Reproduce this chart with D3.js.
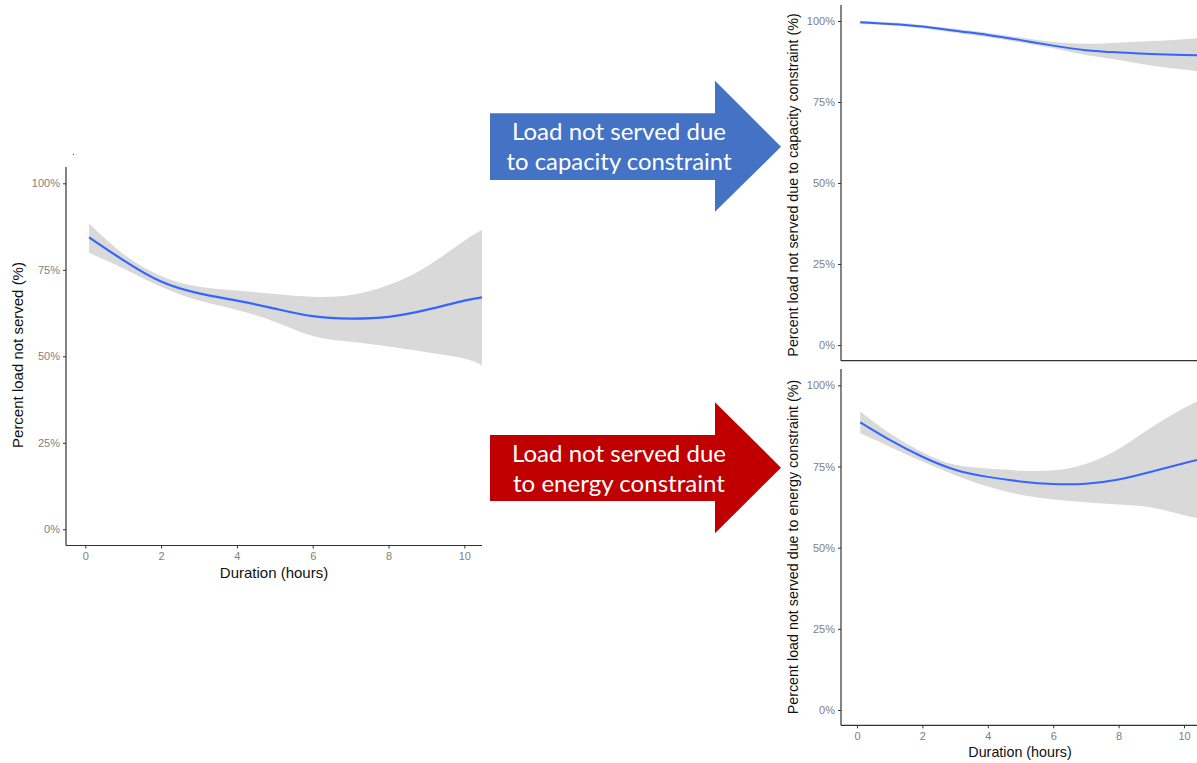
<!DOCTYPE html>
<html>
<head>
<meta charset="utf-8">
<script src="https://cdn.jsdelivr.net/npm/d3@7"></script>
<style>
html,body{margin:0;padding:0;background:#fff;}
svg{display:block;}
</style>
</head>
<body>
<svg id="chart" width="1197" height="763"></svg>
<script>
// ---- data ----
const hours = [0.1, 1, 2, 3, 4, 5, 6, 7, 8, 9, 10, 10.5];

const totalFit = [84.4, 77.8, 71.6, 68.2, 66.1, 63.8, 61.6, 60.9, 61.4, 63.4, 66.1, 67.1];
const totalLo  = [79.9, 75.4, 70.1, 66.1, 63.4, 60.0, 55.9, 54.2, 52.8, 51.2, 49.4, 47.2];
const totalHi  = [88.4, 79.6, 73.2, 70.1, 69.0, 68.0, 67.2, 67.7, 70.6, 75.9, 83.4, 86.7];

const capFit = [99.6, 99.1, 98.3, 97.0, 95.7, 94.1, 92.4, 91.0, 90.3, 89.8, 89.5, 89.4];
const capLo  = [99.1, 98.7, 97.8, 96.4, 95.0, 93.4, 91.6, 89.5, 88.0, 86.3, 85.0, 84.3];
const capHi  = [100.1, 99.6, 98.8, 97.6, 96.4, 94.9, 93.5, 93.0, 93.3, 93.8, 94.4, 94.8];

const energyFit = [88.6, 83.2, 78.0, 74.0, 71.8, 70.4, 69.6, 69.7, 71.0, 73.4, 76.0, 77.2];
const energyLo  = [85.2, 81.1, 76.5, 72.3, 68.8, 66.3, 64.8, 64.0, 63.3, 62.4, 60.0, 59.0];
const energyHi  = [91.9, 85.2, 79.4, 75.5, 74.4, 73.7, 73.8, 75.8, 80.4, 87.0, 93.0, 95.5];

const xTicks = [0, 2, 4, 6, 8, 10];
const yTicks = [0, 25, 50, 75, 100];
const xTitle = "Duration (hours)";
const yTitleTotal = "Percent load not served (%)";
const yTitleCap = "Percent load not served due to capacity constraint (%)";
const yTitleEnergy = "Percent load not served due to energy constraint (%)";
const arrowTextCap = ["Load not served due", "to capacity constraint"];
const arrowTextEnergy = ["Load not served due", "to energy constraint"];

// ---- drawing ----
const svg = d3.select("#chart");
const defs = svg.append("defs");
const FONT = "'Liberation Sans', Arial, Helvetica, sans-serif";

function panel(cfg, id) {
  const x = d3.scaleLinear().domain([0, 10]).range([cfg.x0, cfg.x10]);
  const y = d3.scaleLinear().domain([0, 100]).range([cfg.y0, cfg.y100]);
  const g = svg.append("g");

  defs.append("clipPath").attr("id", id)
    .append("rect")
    .attr("x", cfg.left).attr("y", cfg.top)
    .attr("width", cfg.right - cfg.left).attr("height", cfg.bottom - cfg.top);

  const pts = hours.map((h, i) => ({h, fit: cfg.fit[i], lo: cfg.lo[i], hi: cfg.hi[i]}));
  const area = d3.area().x(d => x(d.h)).y0(d => y(d.lo)).y1(d => y(d.hi)).curve(d3.curveNatural);
  const line = d3.line().x(d => x(d.h)).y(d => y(d.fit)).curve(d3.curveNatural);

  const pg = g.append("g").attr("clip-path", `url(#${id})`);
  pg.append("path").datum(pts).attr("d", area).attr("fill", "#d9d9d9");
  pg.append("path").datum(pts).attr("d", line).attr("fill", "none")
    .attr("stroke", "#3366ff").attr("stroke-width", cfg.lw);

  // y axis
  const yAxis = g.append("g").attr("transform", `translate(${cfg.left},0)`)
    .call(d3.axisLeft(y).tickValues(yTicks).tickSize(3).tickPadding(3).tickFormat(d => d + "%"));
  yAxis.select(".domain").attr("d", `M0,${cfg.top}V${cfg.bottom}`).attr("stroke", "#333").attr("stroke-width", 1.2);
  yAxis.selectAll(".tick line").attr("stroke", "#333");
  yAxis.selectAll(".tick text").attr("fill", "#808080").attr("font-size", cfg.tickFs).attr("font-family", FONT);

  // x axis
  const xAxis = g.append("g").attr("transform", `translate(0,${cfg.bottom})`)
    .call(d3.axisBottom(x).tickValues(cfg.showXTicks ? xTicks : []).tickSize(3).tickPadding(4));
  xAxis.select(".domain").attr("d", `M${cfg.left},0H${cfg.right}`).attr("stroke", "#333").attr("stroke-width", 1.2);
  xAxis.selectAll(".tick line").attr("stroke", "#333");
  xAxis.selectAll(".tick text").attr("fill", "#808080").attr("font-size", cfg.tickFs).attr("font-family", FONT);

  if (cfg.showXTicks) {
    g.append("text").attr("x", cfg.xTitleX).attr("y", cfg.xTitleY)
      .attr("text-anchor", "middle").attr("font-family", FONT).attr("font-size", cfg.xTitleFs)
      .attr("fill", "#111").text(xTitle);
  }
  g.append("text")
    .attr("transform", `translate(${cfg.yTitleX},${cfg.yTitleY}) rotate(-90)`)
    .attr("text-anchor", "middle").attr("font-family", FONT).attr("font-size", cfg.yTitleFs)
    .attr("fill", "#111").text(cfg.yTitle);
}

panel({
  x0: 85.3, x10: 464.3, y0: 529.3, y100: 183.3,
  left: 66, right: 482, top: 167, bottom: 545.5,
  fit: totalFit, lo: totalLo, hi: totalHi, lw: 2.2,
  tickFs: 11, yTitleFs: 15, xTitleFs: 15, showXTicks: true,
  xTitleX: 274, xTitleY: 578, yTitleX: 23, yTitleY: 355, yTitle: yTitleTotal
}, "clipTotal");

panel({
  x0: 857, x10: 1184, y0: 345, y100: 21,
  left: 841, right: 1197, top: 5, bottom: 360.7,
  fit: capFit, lo: capLo, hi: capHi, lw: 2,
  tickFs: 11, yTitleFs: 14.3, xTitleFs: 14, showXTicks: false,
  yTitleX: 798, yTitleY: 185, yTitle: yTitleCap
}, "clipCap");

panel({
  x0: 857, x10: 1184, y0: 710, y100: 385.3,
  left: 841, right: 1197, top: 369, bottom: 725.3,
  fit: energyFit, lo: energyLo, hi: energyHi, lw: 2,
  tickFs: 11, yTitleFs: 14.3, xTitleFs: 14.3, showXTicks: true,
  xTitleX: 1020, xTitleY: 757, yTitleX: 798, yTitleY: 547, yTitle: yTitleEnergy
}, "clipEnergy");

// small stray title dot on the left panel
svg.append("text").attr("x", 72).attr("y", 155).attr("font-family", FONT)
  .attr("font-size", 10).attr("fill", "#333").text(".");

// ---- arrows ----
function arrow(a, lines) {
  const g = svg.append("g");
  const p = d3.path();
  p.moveTo(a.x0, a.bodyTop);
  p.lineTo(a.neck, a.bodyTop);
  p.lineTo(a.neck, a.headTop);
  p.lineTo(a.tip, a.mid);
  p.lineTo(a.neck, a.headBottom);
  p.lineTo(a.neck, a.bodyBottom);
  p.lineTo(a.x0, a.bodyBottom);
  p.closePath();
  g.append("path").attr("d", p.toString()).attr("fill", a.color);
  lines.forEach((t, i) => {
    g.append("text").attr("x", a.textX).attr("y", a.baselines[i])
      .attr("text-anchor", "middle")
      .attr("font-family", "Lato, 'Open Sans', sans-serif")
      .attr("font-size", 23).attr("fill", "#fff")
      .attr("textLength", a.widths[i]).attr("lengthAdjust", "spacingAndGlyphs")
      .text(t);
  });
}

arrow({x0: 490, neck: 715, tip: 781, bodyTop: 113.3, bodyBottom: 180, headTop: 80.7, headBottom: 211.7, mid: 146.7,
  color: "#4472c4", textX: 619, baselines: [140, 170], widths: [214, 225]}, arrowTextCap);
arrow({x0: 490, neck: 715, tip: 781, bodyTop: 435, bodyBottom: 501, headTop: 402.3, headBottom: 533.3, mid: 467.7,
  color: "#c00000", textX: 619, baselines: [462, 492], widths: [214, 212]}, arrowTextEnergy);
</script>
</body>
</html>
